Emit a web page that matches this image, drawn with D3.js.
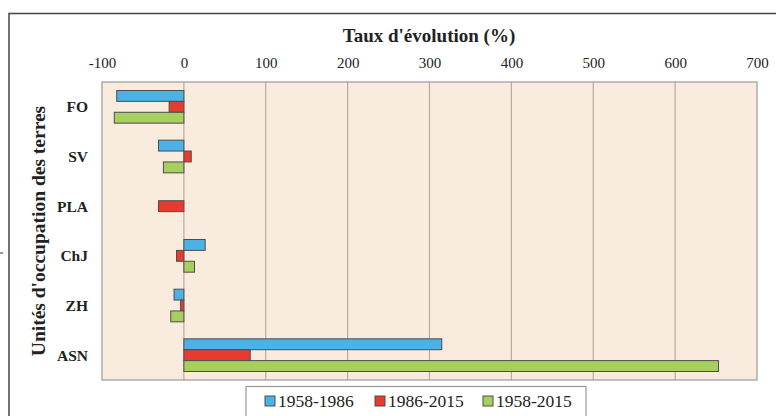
<!DOCTYPE html>
<html>
<head>
<meta charset="utf-8">
<script src="https://cdn.jsdelivr.net/npm/d3@7"></script>
<style>
  body { margin: 0; background: #fff; }
  svg { display: block; font-family: "Liberation Serif", "Times New Roman", serif; }
</style>
</head>
<body>
<div id="chart"></div>
<script>
// land-use units (rows, top to bottom)
const categories = ["FO", "SV", "PLA", "ChJ", "ZH", "ASN"];
const periods = ["1958-1986", "1986-2015", "1958-2015"];
// evolution rate (%) per period
const v1958_1986 = [-82, -31, 0, 26, -12, 315];
const v1986_2015 = [-18, 9, -31, -9, -4, 81];
const v1958_2015 = [-85, -25, 0, 13, -16, 653];
const xTicks = [-100, 0, 100, 200, 300, 400, 500, 600, 700];
const colors = ["#4AB2E5", "#E83B30", "#A6CF5E"];

const W = 776, H = 416;
const margin = { top: 82, right: 19, bottom: 36, left: 102 };
const width = W - margin.left - margin.right;
const height = H - margin.top - margin.bottom;

const svg = d3.select("#chart").append("svg")
    .attr("width", W)
    .attr("height", H);

// outer frame (cropped figure border)
svg.append("rect")
    .attr("x", 9).attr("y", 13.5)
    .attr("width", W).attr("height", H)
    .attr("fill", "none")
    .attr("stroke", "#444")
    .attr("stroke-width", 1.5);
svg.append("line")
    .attr("x1", 0).attr("x2", 3).attr("y1", 253).attr("y2", 253)
    .attr("stroke", "#333");

const g = svg.append("g")
    .attr("transform", `translate(${margin.left},${margin.top})`);

const x = d3.scaleLinear().domain([-100, 700]).range([0, width]);
const y = d3.scaleBand().domain(categories).range([0, height]);
const yInner = d3.scaleBand().domain(periods).range([8.5, y.bandwidth() - 8.5]);

// plot background
g.append("rect")
    .attr("width", width).attr("height", height)
    .attr("fill", "#FAEBDF");

// grid
g.selectAll(".grid").data(xTicks.slice(1, -1))
    .enter().append("line")
    .attr("class", "grid")
    .attr("x1", d => x(d)).attr("x2", d => x(d))
    .attr("y1", 0).attr("y2", height)
    .attr("stroke", "#BBAA9E")
    .attr("stroke-width", 1.2);

g.append("rect")
    .attr("width", width).attr("height", height)
    .attr("fill", "none")
    .attr("stroke", "#9A9A9A")
    .attr("stroke-width", 1.2);

// top axis
const xAxis = g.append("g")
    .call(d3.axisTop(x).tickValues(xTicks).tickSize(0).tickPadding(14)
        .tickFormat(d => String(d)));
xAxis.select(".domain").remove();
xAxis.selectAll("text")
    .style("font-family", "'Liberation Serif', 'Times New Roman', serif")
    .style("font-size", "15px")
    .attr("fill", "#222");

// category labels
g.selectAll(".cat").data(categories)
    .enter().append("text")
    .attr("class", "cat")
    .attr("x", -14)
    .attr("y", d => y(d) + y.bandwidth() / 2)
    .attr("dy", "0.35em")
    .attr("text-anchor", "end")
    .style("font-size", "15.5px")
    .style("font-weight", "bold")
    .attr("fill", "#222")
    .text(d => d);

// bars
const series = [v1958_1986, v1986_2015, v1958_2015];
series.forEach((vals, si) => {
    g.selectAll(".bar" + si)
        .data(vals.map((v, i) => ({ cat: categories[i], v: v })).filter(d => d.v !== 0))
        .enter().append("rect")
        .attr("class", "bar" + si)
        .attr("x", d => x(Math.min(0, d.v)))
        .attr("y", d => y(d.cat) + yInner(periods[si]))
        .attr("width", d => Math.abs(x(d.v) - x(0)))
        .attr("height", yInner.bandwidth())
        .attr("fill", colors[si])
        .attr("stroke", "#4d4d4d")
        .attr("stroke-width", 1);
});

// titles
svg.append("text")
    .attr("x", 429).attr("y", 42)
    .attr("text-anchor", "middle")
    .style("font-size", "19px")
    .style("font-weight", "bold")
    .attr("fill", "#222")
    .text("Taux d'évolution (%)");

svg.append("text")
    .attr("transform", `translate(45,${margin.top + height / 2}) rotate(-90)`)
    .attr("text-anchor", "middle")
    .style("font-size", "19.5px")
    .style("font-weight", "bold")
    .attr("fill", "#222")
    .text("Unités d'occupation des terres");

// legend
const legend = svg.append("g");
legend.append("rect")
    .attr("x", 246).attr("y", 386.5)
    .attr("width", 340).attr("height", 40)
    .attr("fill", "#fff")
    .attr("stroke", "#999")
    .attr("stroke-width", 1.2);
const legX = [265, 375, 483];
periods.forEach((p, i) => {
    legend.append("rect")
        .attr("x", legX[i]).attr("y", 396)
        .attr("width", 10).attr("height", 10)
        .attr("fill", colors[i])
        .attr("stroke", "#4d4d4d");
    legend.append("text")
        .attr("x", legX[i] + 13).attr("y", 407)
        .style("font-size", "17.5px")
        .attr("fill", "#222")
        .text(p);
});
</script>
</body>
</html>
